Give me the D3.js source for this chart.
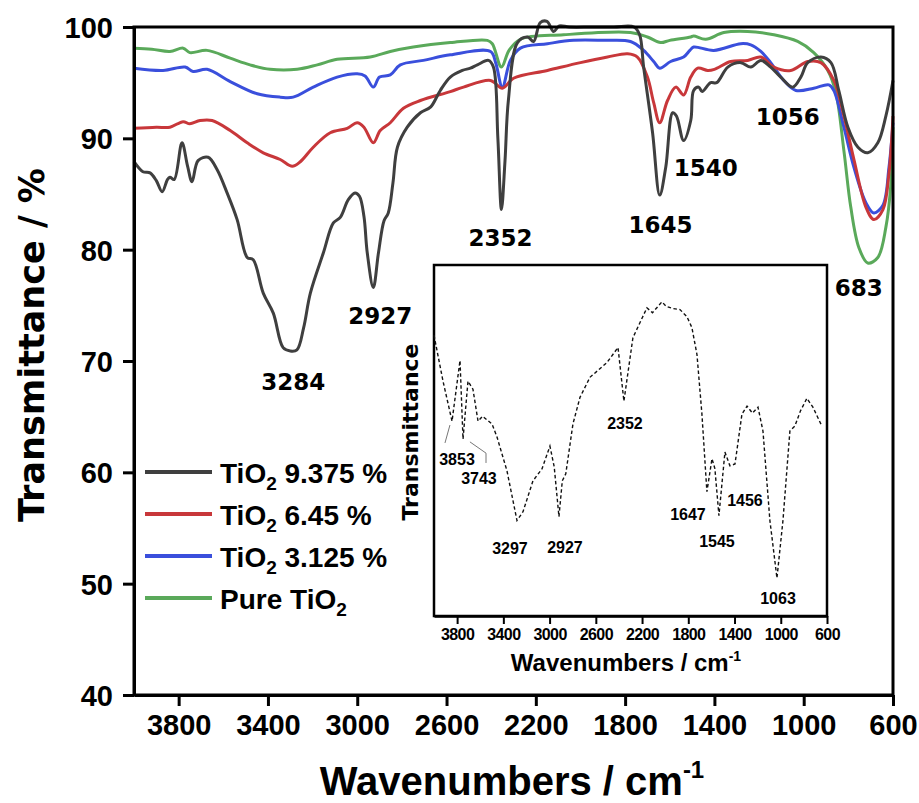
<!DOCTYPE html>
<html>
<head>
<meta charset="utf-8">
<script src="https://d3js.org/d3.v7.min.js"></script>
<style>
  body { margin: 0; background: #fff; }
  svg { display: block; }
  .arial { font-family: Arial, "Liberation Sans", sans-serif; font-weight: bold; }
  .dv { font-family: "DejaVu Sans", sans-serif; font-weight: bold; }
</style>
</head>
<body>
<svg width="919" height="803"></svg>
<script>
// spectra: [wavenumber, transmittance %]
var tio2_9375 = [[4000,87.9],[3960,87.0],[3928,86.9],[3900,86.2],[3874,85.2],[3850,86.3],[3839,86.5],[3820,86.3],[3785,89.6],[3760,87.5],[3740,86.1],[3713,88.0],[3668,88.3],[3628,87.2],[3583,85.1],[3538,82.7],[3493,79.3],[3466,79.1],[3421,76.1],[3376,74.3],[3332,71.2],[3300,70.9],[3270,71.0],[3240,73.0],[3210,76.1],[3152,79.7],[3107,82.4],[3076,82.9],[3040,84.5],[3010,85.1],[2990,84.8],[2970,83.0],[2955,79.7],[2928,76.6],[2905,79.7],[2880,82.6],[2861,83.3],[2840,86.0],[2820,89.2],[2776,91.0],[2717,92.3],[2672,92.8],[2628,94.3],[2583,95.5],[2529,96.1],[2493,96.3],[2462,96.6],[2412,97.0],[2390,96.4],[2370,90.0],[2354,83.6],[2338,88.0],[2323,93.4],[2282,98.6],[2237,99.1],[2210,98.7],[2180,100.4],[2150,100.5],[2120,99.6],[2095,100.1],[2050,100.0],[1950,100.0],[1850,100.0],[1760,100.0],[1735,99.3],[1717,96.4],[1677,90.5],[1645,84.9],[1618,87.4],[1587,92.3],[1570,92.0],[1538,89.8],[1506,91.6],[1493,94.3],[1470,94.6],[1455,94.2],[1417,95.0],[1390,95.0],[1340,96.4],[1282,96.8],[1237,96.4],[1192,97.0],[1148,96.4],[1103,95.5],[1049,94.6],[1013,95.5],[982,96.8],[923,97.3],[878,96.8],[843,94.3],[802,91.0],[757,89.2],[713,88.7],[668,89.6],[632,92.0],[600,95.2]];
var tio2_645 = [[4000,90.9],[3900,91.0],[3839,91.0],[3780,91.5],[3750,91.3],[3704,91.6],[3650,91.6],[3569,90.7],[3493,89.6],[3421,88.7],[3345,88.1],[3291,87.5],[3255,87.9],[3197,89.2],[3121,90.5],[3045,90.9],[3000,91.4],[2970,91.0],[2928,89.6],[2897,90.7],[2852,91.4],[2793,92.7],[2717,93.4],[2583,94.2],[2524,94.6],[2403,95.2],[2350,94.5],[2300,95.4],[2148,96.1],[2000,96.8],[1879,97.3],[1789,97.6],[1745,97.3],[1700,95.5],[1672,93.2],[1645,91.4],[1610,93.4],[1573,94.6],[1538,93.9],[1506,95.5],[1475,96.3],[1430,96.1],[1400,96.2],[1327,96.9],[1251,97.0],[1192,97.3],[1134,96.4],[1058,96.1],[982,96.9],[923,96.8],[865,95.2],[820,92.0],[775,88.1],[721,83.8],[686,82.7],[645,83.6],[618,86.9],[600,92.0]];
var tio2_3125 = [[4000,96.3],[3870,96.1],[3771,96.4],[3735,96.0],[3673,96.2],[3569,95.1],[3448,94.0],[3345,93.7],[3287,93.7],[3197,94.6],[3090,95.5],[3000,95.8],[2965,95.6],[2928,94.6],[2900,95.5],[2852,95.7],[2807,96.6],[2704,97.0],[2583,97.5],[2403,97.8],[2380,96.8],[2350,94.6],[2314,97.0],[2269,98.1],[2148,98.5],[2031,98.8],[1900,98.8],[1776,98.7],[1717,97.9],[1672,96.9],[1645,96.3],[1596,96.9],[1538,97.3],[1510,97.9],[1493,98.2],[1403,97.9],[1282,98.5],[1237,98.4],[1192,97.8],[1148,96.8],[1089,95.2],[1035,94.3],[955,94.5],[887,94.8],[865,94.3],[820,91.0],[775,87.4],[721,84.2],[686,83.3],[645,84.0],[618,87.4],[600,91.4]];
var tio2_pure = [[4000,98.1],[3920,98.0],[3839,97.8],[3780,98.1],[3750,97.7],[3673,97.9],[3569,97.2],[3480,96.6],[3390,96.2],[3269,96.2],[3179,96.6],[3090,97.1],[2942,97.3],[2852,97.8],[2749,98.2],[2583,98.6],[2417,98.8],[2395,98.5],[2354,96.4],[2320,97.9],[2269,98.9],[2076,99.3],[1776,99.5],[1700,99.1],[1641,98.6],[1600,98.8],[1506,99.1],[1493,99.2],[1439,98.9],[1358,99.5],[1251,99.6],[1134,99.3],[1027,98.7],[955,97.7],[892,96.1],[856,94.1],[820,88.9],[789,83.8],[753,80.2],[713,78.8],[668,79.3],[632,82.0],[609,86.0],[600,91.0]];

var seriesNames = ["9.375 %", "6.45 %", "3.125 %", "Pure"];
var seriesColors = ["#3f3f3f", "#c8373a", "#3a4fdc", "#5aa95a"];

// main peak labels: [text, wavenumber, transmittance at baseline]
var mainLabels = [["3284",3287,67.4],["2927",2897,73.3],["2352",2358,80.3],["1645",1641,81.5],["1540",1439,86.6],["1056",1071,91.2],["683",753,75.8]];

// inset spectrum (arbitrary transmittance units 0-100)
var insetData = [[4000,80.0],[3922,66.9],[3844,55.5],[3775,72.8],[3749,50.4],[3706,66.9],[3663,64.6],[3619,55.5],[3580,56.9],[3498,54.7],[3455,51.0],[3369,41.4],[3282,27.2],[3230,29.7],[3144,38.5],[3066,41.9],[2997,48.4],[2960,42.5],[2919,28.3],[2890,38.5],[2860,40.5],[2798,54.7],[2737,62.3],[2651,68.0],[2504,72.2],[2408,76.5],[2357,61.2],[2279,79.3],[2158,87.8],[2110,86.4],[2028,89.5],[1990,88.2],[1933,87.6],[1872,87.3],[1812,85.3],[1769,82.2],[1725,74.5],[1682,57.5],[1639,35.4],[1595,44.8],[1570,42.0],[1535,28.6],[1483,46.7],[1440,42.8],[1396,43.3],[1336,57.5],[1292,59.8],[1245,57.8],[1197,59.5],[1154,52.7],[1094,27.2],[1033,10.8],[981,27.2],[921,52.7],[878,54.1],[830,58.4],[774,62.0],[722,59.5],[644,54.1]];
var insetLabels = [["3853",3801,43.0],["3743",3611,37.6],["3297",3343,17.7],["2927",2867,17.9],["2352",2348,53.3],["1647",1803,27.4],["1545",1552,19.7],["1456",1310,31.3],["1063",1024,3.4]];
var insetLeaders = [[[3905,49.3],[3862,54.4]], [[3689,49.6],[3550,46.4],[3550,43.6]]];

var xTicks = [3800, 3400, 3000, 2600, 2200, 1800, 1400, 1000, 600];
var yTicks = [40, 50, 60, 70, 80, 90, 100];

var svg = d3.select("svg");

// main plot
var mLeft = 134, mRight = 893, mTop = 27, mBottom = 695;
var x = d3.scaleLinear().domain([4000, 600]).range([mLeft, mRight]);
var y = d3.scaleLinear().domain([40, 100]).range([mBottom, mTop]);

var line = d3.line()
    .x(function(d) { return x(d[0]); })
    .y(function(d) { return y(d[1]); })
    .curve(d3.curveCatmullRom.alpha(0.5));

var allSeries = [tio2_9375, tio2_645, tio2_3125, tio2_pure];
// draw pure first so black stays on top
[3, 2, 1, 0].forEach(function(i) {
    svg.append("path")
        .datum(allSeries[i])
        .attr("d", line)
        .attr("fill", "none")
        .attr("stroke", seriesColors[i])
        .attr("stroke-width", 3)
        .attr("stroke-linejoin", "round");
});

// frame
svg.append("rect")
    .attr("x", mLeft).attr("y", mTop)
    .attr("width", mRight - mLeft).attr("height", mBottom - mTop)
    .attr("fill", "none").attr("stroke", "#000").attr("stroke-width", 3);

var xAxis = svg.append("g")
    .attr("transform", "translate(0," + mBottom + ")")
    .call(d3.axisBottom(x).tickValues(xTicks).tickFormat(d3.format("d")).tickSize(11).tickSizeOuter(0).tickPadding(8));
var yAxis = svg.append("g")
    .attr("transform", "translate(" + mLeft + ",0)")
    .call(d3.axisLeft(y).tickValues(yTicks).tickFormat(d3.format("d")).tickSize(11).tickSizeOuter(0).tickPadding(10));

[xAxis, yAxis].forEach(function(a) {
    a.select(".domain").attr("stroke-width", 3);
    a.selectAll(".tick line").attr("stroke-width", 3);
    a.selectAll(".tick text")
        .attr("class", "arial")
        .attr("font-size", 29)
        .attr("fill", "#000");
});
xAxis.selectAll(".tick text").attr("dy", "0.72em");
yAxis.selectAll(".tick text").attr("dy", "0.36em");

// axis titles
svg.append("text")
    .attr("class", "dv")
    .attr("font-size", 35)
    .attr("text-anchor", "middle")
    .attr("transform", "translate(44,345) rotate(-90)")
    .text("Transmittance / %");

var xt = svg.append("text")
    .attr("class", "arial")
    .attr("font-size", 40)
    .attr("text-anchor", "middle")
    .attr("x", 512).attr("y", 795);
xt.append("tspan").text("Wavenumbers / cm");
xt.append("tspan").attr("font-size", 24).attr("dy", -17).text("-1");

// peak labels
svg.selectAll(".mlabel")
    .data(mainLabels)
    .enter()
    .append("text")
    .attr("class", "dv")
    .attr("font-size", 23)
    .attr("text-anchor", "middle")
    .attr("x", function(d) { return x(d[1]); })
    .attr("y", function(d) { return y(d[2]); })
    .text(function(d) { return d[0]; });

// legend
var legend = svg.append("g").attr("transform", "translate(145,472)");
seriesNames.forEach(function(name, i) {
    var g = legend.append("g").attr("transform", "translate(0," + (i * 42) + ")");
    g.append("line")
        .attr("x1", 0).attr("x2", 67)
        .attr("stroke", seriesColors[i]).attr("stroke-width", 4);
    var t = g.append("text")
        .attr("class", "arial")
        .attr("font-size", 28)
        .attr("x", 75).attr("y", 11);
    if (name === "Pure") {
        t.append("tspan").text("Pure TiO");
        t.append("tspan").attr("font-size", 19).attr("dy", 7).text("2");
    } else {
        t.append("tspan").text("TiO");
        t.append("tspan").attr("font-size", 19).attr("dy", 7).text("2");
        t.append("tspan").attr("dy", -7).text(" " + name);
    }
});

// inset
var iLeft = 434, iRight = 827, iTop = 265, iBottom = 616;
var ix = d3.scaleLinear().domain([4000, 600]).range([iLeft, iRight]);
var iy = d3.scaleLinear().domain([0, 100]).range([iBottom, iTop]);

svg.append("rect")
    .attr("x", iLeft).attr("y", iTop)
    .attr("width", iRight - iLeft).attr("height", iBottom - iTop)
    .attr("fill", "#fff").attr("stroke", "#000").attr("stroke-width", 2.5);

svg.append("path")
    .datum(insetData)
    .attr("d", d3.line()
        .x(function(d) { return ix(d[0]); })
        .y(function(d) { return iy(d[1]); }))
    .attr("fill", "none")
    .attr("stroke", "#111")
    .attr("stroke-width", 1.4)
    .attr("stroke-dasharray", "3.5,2.5");

insetLeaders.forEach(function(pts) {
    svg.append("path")
        .datum(pts)
        .attr("d", d3.line()
            .x(function(d) { return ix(d[0]); })
            .y(function(d) { return iy(d[1]); }))
        .attr("fill", "none")
        .attr("stroke", "#777")
        .attr("stroke-width", 1);
});

svg.selectAll(".ilabel")
    .data(insetLabels)
    .enter()
    .append("text")
    .attr("class", "arial")
    .attr("font-size", 16)
    .attr("text-anchor", "middle")
    .attr("x", function(d) { return ix(d[1]); })
    .attr("y", function(d) { return iy(d[2]); })
    .text(function(d) { return d[0]; });

var ixAxis = svg.append("g")
    .attr("transform", "translate(0," + iBottom + ")")
    .call(d3.axisBottom(ix).tickValues(xTicks).tickFormat(d3.format("d")).tickSize(8).tickSizeOuter(0).tickPadding(4));
ixAxis.select(".domain").attr("stroke-width", 2.5);
ixAxis.selectAll(".tick line").attr("stroke-width", 2);
ixAxis.selectAll(".tick text")
    .attr("class", "arial")
    .attr("font-size", 16)
    .attr("letter-spacing", -0.6)
    .attr("fill", "#000")
    .attr("dy", "0.72em");

svg.append("text")
    .attr("class", "dv")
    .attr("font-size", 22)
    .attr("text-anchor", "middle")
    .attr("transform", "translate(418,432) rotate(-90)")
    .text("Transmittance");

var ixt = svg.append("text")
    .attr("class", "arial")
    .attr("font-size", 24)
    .attr("text-anchor", "middle")
    .attr("x", 626).attr("y", 671);
ixt.append("tspan").text("Wavenumbers / cm");
ixt.append("tspan").attr("font-size", 14).attr("dy", -10).text("-1");
</script>
</body>
</html>
